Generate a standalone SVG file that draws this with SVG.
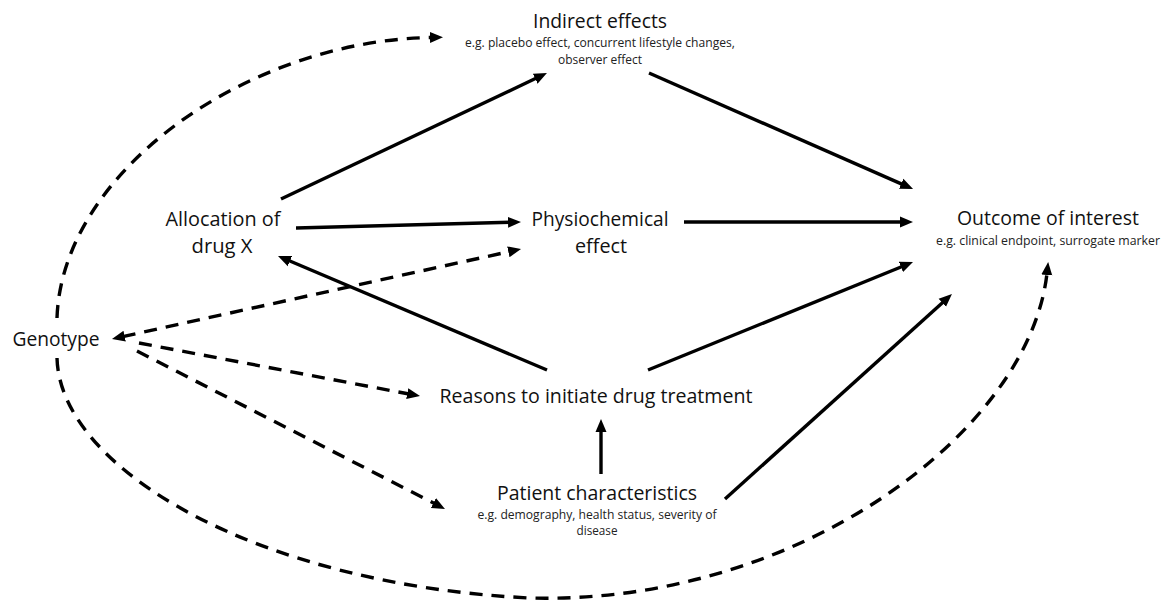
<svg xmlns="http://www.w3.org/2000/svg" width="1166" height="600" viewBox="0 0 1166 600">
<defs>
<style>
.t{font-family:"Open Sans","Noto Sans",sans-serif;font-size:19.5px;fill:#111;text-anchor:middle}
.s{font-family:"Open Sans","Noto Sans",sans-serif;font-size:12.5px;fill:#222;text-anchor:middle}
.a{fill:none;stroke:#000;stroke-width:3.4}
.d{fill:none;stroke:#000;stroke-width:3.4;stroke-dasharray:13 9}
</style>
<marker id="ah" markerUnits="userSpaceOnUse" markerWidth="14" markerHeight="12" refX="2" refY="5.5" orient="auto-start-reverse" viewBox="0 0 14 11">
<path d="M0,0 L13,5.5 L0,11 z" fill="#000" stroke="none"/>
</marker>
</defs>
<rect width="1166" height="600" fill="#fff"/>
<g id="connectors">
<line class="a" x1="281" y1="199" x2="537" y2="77.8" marker-end="url(#ah)"/>
<line class="a" x1="649" y1="73" x2="903" y2="184.6" marker-end="url(#ah)"/>
<line class="a" x1="296" y1="228" x2="510" y2="222.3" marker-end="url(#ah)"/>
<line class="a" x1="684" y1="222" x2="902" y2="222" marker-end="url(#ah)"/>
<line class="a" x1="547" y1="370" x2="288.1" y2="260.3" marker-end="url(#ah)"/>
<line class="a" x1="648" y1="370" x2="902.8" y2="266.2" marker-end="url(#ah)"/>
<line class="a" x1="725" y1="499" x2="943.8" y2="301.4" marker-end="url(#ah)"/>
<line class="a" x1="601" y1="474" x2="601" y2="430" marker-end="url(#ah)"/>
<line class="d" x1="122.7" y1="336.6" x2="510.3" y2="251.4" marker-start="url(#ah)" marker-end="url(#ah)"/>
<line class="d" x1="139" y1="343" x2="409.2" y2="394" marker-end="url(#ah)"/>
<line class="d" x1="137" y1="351" x2="435.2" y2="503.9" marker-end="url(#ah)"/>
<path class="d" d="M57,318 C62,170 250,40 432,37.5" marker-end="url(#ah)"/>
<path class="d" d="M57,358 C60,470 260,585 530,598 C800,605 1030,430 1047,273" marker-end="url(#ah)"/>
</g>
<g id="indirect">
<text class="t" x="600" y="28" textLength="134" lengthAdjust="spacingAndGlyphs">Indirect effects</text>
<text class="s" x="600" y="47" textLength="270" lengthAdjust="spacingAndGlyphs">e.g. placebo effect, concurrent lifestyle changes,</text>
<text class="s" x="600" y="64" textLength="84" lengthAdjust="spacingAndGlyphs">observer effect</text>
</g>
<g id="allocation">
<text class="t" x="223" y="226" textLength="115" lengthAdjust="spacingAndGlyphs">Allocation of</text>
<text class="t" x="222" y="253" textLength="61" lengthAdjust="spacingAndGlyphs">drug X</text>
</g>
<g id="physio">
<text class="t" x="600" y="226" textLength="137" lengthAdjust="spacingAndGlyphs">Physiochemical</text>
<text class="t" x="601" y="253" textLength="52" lengthAdjust="spacingAndGlyphs">effect</text>
</g>
<g id="outcome">
<text class="t" x="1048" y="225" textLength="182" lengthAdjust="spacingAndGlyphs">Outcome of interest</text>
<text class="s" x="1048" y="245" textLength="224" lengthAdjust="spacingAndGlyphs">e.g. clinical endpoint, surrogate marker</text>
</g>
<g id="genotype">
<text class="t" x="56" y="346" textLength="87" lengthAdjust="spacingAndGlyphs">Genotype</text>
</g>
<g id="reasons">
<text class="t" x="596" y="403" textLength="313" lengthAdjust="spacingAndGlyphs">Reasons to initiate drug treatment</text>
</g>
<g id="patient">
<text class="t" x="597" y="500" textLength="200" lengthAdjust="spacingAndGlyphs">Patient characteristics</text>
<text class="s" x="597" y="519" textLength="239" lengthAdjust="spacingAndGlyphs">e.g. demography, health status, severity of</text>
<text class="s" x="597" y="535" textLength="41" lengthAdjust="spacingAndGlyphs">disease</text>
</g>
</svg>
